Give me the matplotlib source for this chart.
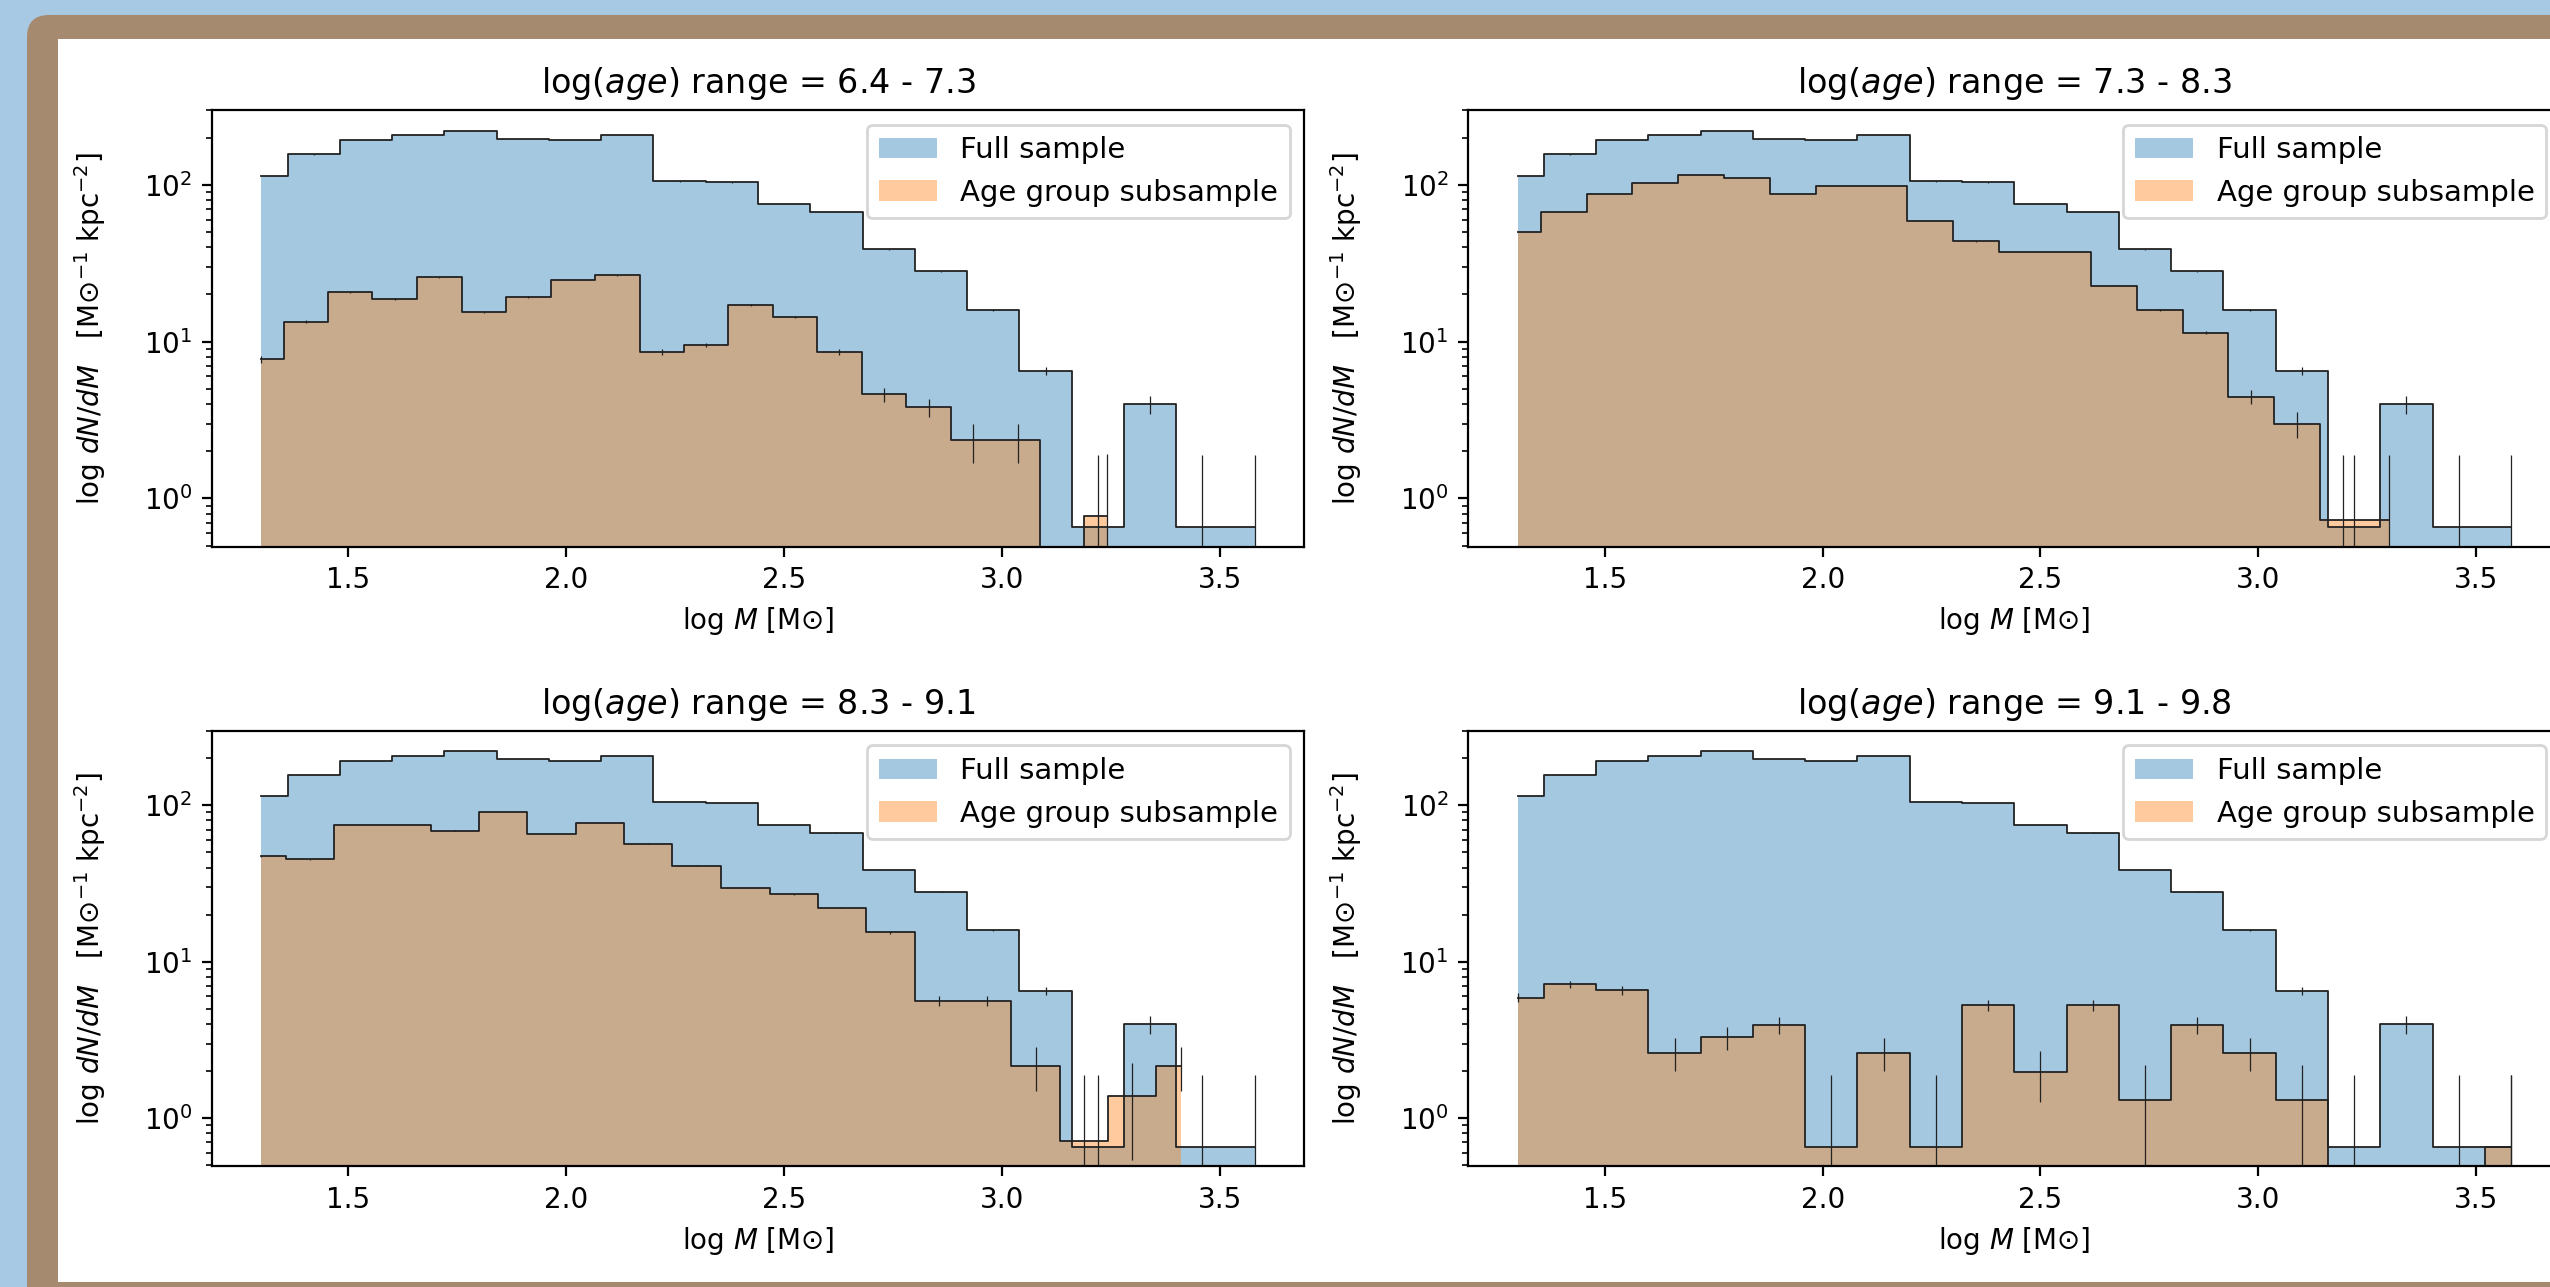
import matplotlib
matplotlib.use("Agg")
import matplotlib.pyplot as plt
from matplotlib.patches import FancyBboxPatch, Rectangle

# ---------------- data ----------------
mass_full = [1.30, 1.42, 1.54, 1.66, 1.78, 1.90, 2.02, 2.14, 2.26, 2.38,
             2.50, 2.62, 2.74, 2.86, 2.98, 3.10, 3.22, 3.34, 3.46, 3.58]
dens_full = [114.5, 156, 192, 207, 221, 197, 192, 207, 105, 103.5,
             75, 67, 38.7, 28, 16, 6.5, 0.656, 3.97, 0.656, 0.656]
err_full = [0.093, 0.080, 0.072, 0.070, 0.067, 0.071, 0.072, 0.070, 0.098, 0.098,
            0.115, 0.122, 0.161, 0.189, 0.25, 0.39, 1.24, 0.50, 1.24, 1.24]

age_ranges = ["6.4 - 7.3", "7.3 - 8.3", "8.3 - 9.1", "9.1 - 9.8"]

mass_sub_1 = [1.300, 1.402, 1.504, 1.606, 1.708, 1.811, 1.913, 2.015, 2.117, 2.219,
              2.321, 2.423, 2.525, 2.627, 2.729, 2.832, 2.934, 3.036, 3.138, 3.240]
dens_sub_1 = [7.7, 13.4, 20.6, 18.7, 25.8, 15.4, 19.2, 24.8, 26.5, 8.6,
              9.5, 17.1, 14.3, 8.6, 4.6, 3.8, 2.34, 2.34, 0, 0.77]
err_sub_1 = [0.36, 0.27, 0.22, 0.23, 0.20, 0.25, 0.23, 0.20, 0.19, 0.34,
             0.32, 0.24, 0.26, 0.34, 0.47, 0.51, 0.65, 0.65, 0, 1.14]

mass_sub_2 = [1.300, 1.405, 1.511, 1.616, 1.721, 1.826, 1.932, 2.037, 2.142, 2.247,
              2.353, 2.458, 2.563, 2.668, 2.774, 2.879, 2.984, 3.089, 3.195, 3.300]
dens_sub_2 = [49.8, 67, 87, 102, 116, 111, 87, 97.8, 97.8, 59,
              43.5, 37.2, 37.2, 22.7, 16, 11.4, 4.44, 3.0, 0.73, 0.73]
err_sub_2 = [0.14, 0.12, 0.11, 0.10, 0.093, 0.095, 0.11, 0.10, 0.10, 0.13,
             0.15, 0.16, 0.16, 0.21, 0.25, 0.30, 0.47, 0.58, 1.17, 1.17]

mass_sub_3 = [1.300, 1.411, 1.522, 1.633, 1.744, 1.855, 1.966, 2.077, 2.188, 2.299,
              2.411, 2.522, 2.633, 2.744, 2.855, 2.966, 3.077, 3.188, 3.299, 3.410]
dens_sub_3 = [47.1, 45.1, 74.9, 74.9, 69, 90.6, 65.3, 77, 57, 41.1,
              29.6, 27, 22.2, 15.4, 5.6, 5.6, 2.16, 0.71, 1.39, 2.16]
err_sub_3 = [0.146, 0.149, 0.116, 0.116, 0.12, 0.105, 0.124, 0.114, 0.132, 0.156,
             0.184, 0.192, 0.212, 0.255, 0.42, 0.42, 0.68, 1.19, 0.85, 0.68]

mass_sub_4 = [1.30, 1.42, 1.54, 1.66, 1.78, 1.90, 2.02, 2.14, 2.26, 2.38,
              2.50, 2.62, 2.74, 2.86, 2.98, 3.10, 3.22, 3.34, 3.46, 3.58]
dens_sub_4 = [5.9, 7.2, 6.56, 2.62, 3.28, 3.94, 0.656, 2.62, 0.656, 5.25,
              1.97, 5.25, 1.31, 3.94, 2.62, 1.31, 0, 0, 0, 0.656]
err_sub_4 = [0.41, 0.37, 0.39, 0.62, 0.55, 0.50, 1.23, 0.62, 1.23, 0.44,
             0.71, 0.44, 0.87, 0.50, 0.62, 0.87, 0, 0, 0, 1.23]

sub_mass = [mass_sub_1, mass_sub_2, mass_sub_3, mass_sub_4]
sub_dens = [dens_sub_1, dens_sub_2, dens_sub_3, dens_sub_4]
sub_err = [err_sub_1, err_sub_2, err_sub_3, err_sub_4]

# ---------------- figure ----------------
W, H, DPI = 2550, 1287, 200
fig = plt.figure(figsize=(W / DPI + 0.0001, H / DPI + 0.0001), dpi=DPI)
fig.patch.set_facecolor("#a8c9e3")

BROWN = "#a68a6f"
# background axes spanning the figure, in pixel units (y downwards)
bg = fig.add_axes([0, 0, 1, 1], zorder=-10)
bg.set_xlim(0, W)
bg.set_ylim(H, 0)
bg.axis("off")
bg.add_patch(FancyBboxPatch((27, 15), 3000, 2000,
                            boxstyle="round,pad=0,rounding_size=22",
                            facecolor=BROWN, edgecolor="none"))
bg.add_patch(Rectangle((58, 39), 3000, 1282 - 39,
                       facecolor="white", edgecolor="none"))

positions = [
    [0.08302, 0.57522, 0.42847, 0.33932],
    [0.57569, 0.57522, 0.42847, 0.33932],
    [0.08302, 0.09378, 0.42847, 0.33846],
    [0.57569, 0.09378, 0.42847, 0.33846],
]

for i in range(4):
    ax = fig.add_axes(positions[i])
    ax.set_yscale("log")
    ax.fill_between(mass_full, dens_full, step="mid", color="C0", alpha=0.4,
                    linewidth=0, label="Full sample")
    ax.fill_between(sub_mass[i], sub_dens[i], step="mid", color="C1", alpha=0.4,
                    linewidth=0, label="Age group subsample")
    ax.step(mass_full, dens_full, where="mid", color="#222222", lw=0.65)
    ax.step(sub_mass[i], sub_dens[i], where="mid", color="#222222", lw=0.65)
    ax.errorbar(mass_full, dens_full, yerr=err_full, fmt="none", ecolor="#222222",
                elinewidth=0.45)
    ax.errorbar(sub_mass[i], sub_dens[i], yerr=sub_err[i], fmt="none",
                ecolor="#222222", elinewidth=0.45)
    ax.set_xlim(1.186, 3.694)
    ax.set_ylim(0.492, 300)
    ax.set_title(r"log($age$) range = " + age_ranges[i], fontsize=12)
    ax.set_xlabel(r"log $M$ [M$\odot$]")
    ax.set_ylabel(r"log $dN/dM$   [M$\odot^{-1}$ kpc$^{-2}$]", labelpad=13)
    ax.legend(loc="upper right", fontsize=10.5)

fig.savefig("out.png", dpi=DPI, facecolor=fig.get_facecolor())
